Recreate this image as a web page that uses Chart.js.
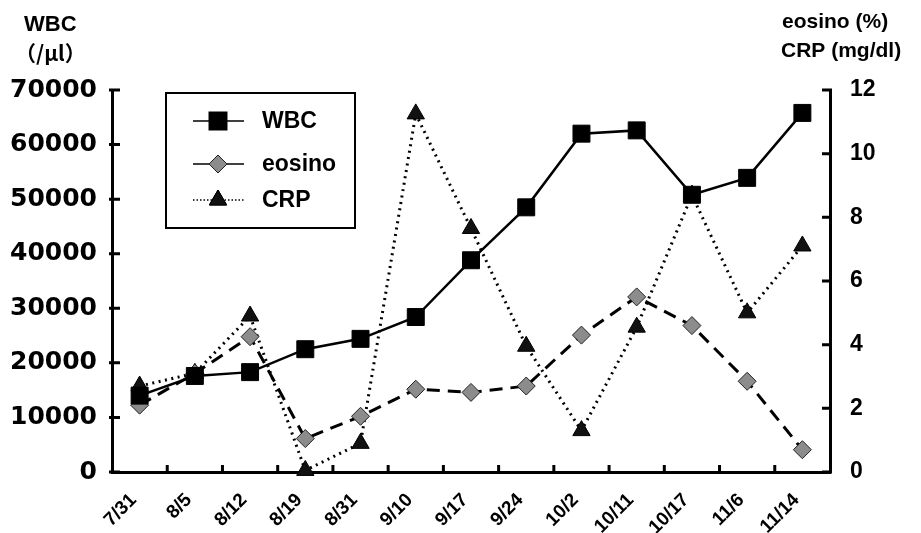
<!DOCTYPE html>
<html>
<head>
<meta charset="utf-8">
<script src="https://cdn.jsdelivr.net/npm/chart.js@4/dist/chart.umd.min.js"></script>
<style>
  html, body { margin: 0; padding: 0; background: #fff; }
  #wrap { width: 921px; height: 533px; }
</style>
</head>
<body>
<div id="wrap"><canvas id="chart" width="921" height="533"></canvas></div>
<script>
// data
const dates = ['7/31', '8/5', '8/12', '8/19', '8/31', '9/10', '9/17', '9/24', '10/2', '10/11', '10/17', '11/6', '11/14'];
const wbc = [14000, 17600, 18300, 22500, 24400, 28400, 38800, 48500, 62000, 62600, 50800, 53900, 65800];
const eosino = [2.1, 3.1, 4.25, 1.05, 1.75, 2.6, 2.5, 2.7, 4.3, 5.5, 4.6, 2.85, 0.7];
const crp = [2.7, 3.1, 4.9, 0.05, 0.9, 11.25, 7.65, 3.95, 1.3, 4.55, 8.7, 5.0, 7.1];

const ink = '#000';
const tickFont = { family: '"DejaVu Sans", sans-serif', size: 25, weight: 'bold' };
const rightFont = { family: '"Liberation Sans", Arial, sans-serif', size: 23, weight: 'bold' };

// inward tick marks, axis titles and the boxed legend
const decorPlugin = {
    id: 'decor',
    afterDraw(chart) {
        const c = chart.ctx;
        const area = chart.chartArea;
        const x = chart.scales.x, y = chart.scales.y, y1 = chart.scales.y1;
        c.save();
        c.strokeStyle = ink;
        c.lineWidth = 3;
        c.beginPath();
        y.ticks.forEach(t => {
            const py = y.getPixelForValue(t.value);
            c.moveTo(area.left - 3, py);
            c.lineTo(area.left + 8, py);
        });
        y1.ticks.forEach(t => {
            const py = y1.getPixelForValue(t.value);
            c.moveTo(area.right + 2, py);
            c.lineTo(area.right - 8, py);
        });
        for (let i = 1; i < dates.length; i++) {
            const px = (x.getPixelForValue(i - 1) + x.getPixelForValue(i)) / 2;
            c.moveTo(px, area.bottom + 1);
            c.lineTo(px, area.bottom - 7);
        }
        c.stroke();

        // axis titles
        c.fillStyle = ink;
        c.textBaseline = 'alphabetic';
        c.textAlign = 'left';
        c.font = 'bold 22px "Liberation Sans", Arial, sans-serif';
        c.fillText('WBC', 24, 31);
        c.font = 'bold 21px "Noto Sans CJK JP", sans-serif';
        c.fillText('（/μl）', 15, 61);
        c.font = 'bold 21px "Liberation Sans", Arial, sans-serif';
        c.fillText('eosino (%)', 782, 28);
        c.fillText('CRP (mg/dl)', 781, 57);

        // legend box
        c.lineWidth = 2;
        c.strokeRect(166, 93, 189, 135);
        const rows = [121, 164, 200];
        chart.data.datasets.forEach((ds, i) => {
            const ly = rows[i];
            c.save();
            c.lineWidth = 1.5;
            c.setLineDash(i === 2 ? [1.5, 2] : []);
            c.beginPath();
            c.moveTo(193, ly);
            c.lineTo(244, ly);
            c.stroke();
            c.restore();
            Chart.helpers.drawPoint(c, {
                pointStyle: ds.pointStyle,
                radius: ds.pointRadius,
                rotation: 0,
                borderWidth: ds.pointBorderWidth
            }, 218, ly);
            c.fillStyle = ds.pointBackgroundColor;
            c.strokeStyle = ds.pointBorderColor;
            c.lineWidth = ds.pointBorderWidth;
            c.fill();
            c.stroke();
            c.fillStyle = ink;
            c.strokeStyle = ink;
            c.font = 'bold 23px "Liberation Sans", Arial, sans-serif';
            c.textBaseline = 'middle';
            c.fillText(ds.label, 262, ly + 1);
        });
        c.restore();
    }
};

new Chart(document.getElementById('chart'), {
    type: 'line',
    data: {
        labels: dates,
        datasets: [{
            label: 'WBC',
            data: wbc,
            yAxisID: 'y',
            borderColor: ink,
            borderWidth: 2.5,
            pointStyle: 'rect',
            pointRadius: 12,
            pointBackgroundColor: ink,
            pointBorderColor: ink,
            pointBorderWidth: 1,
            clip: false
        }, {
            label: 'eosino',
            data: eosino,
            yAxisID: 'y1',
            borderColor: ink,
            borderWidth: 3,
            borderDash: [13, 8],
            pointStyle: 'rectRot',
            pointRadius: 9,
            pointBackgroundColor: '#8c8c8c',
            pointBorderColor: '#222',
            pointBorderWidth: 1,
            clip: false
        }, {
            label: 'CRP',
            data: crp,
            yAxisID: 'y1',
            borderColor: ink,
            borderWidth: 3,
            borderDash: [2, 4.5],
            pointStyle: 'triangle',
            pointRadius: 10,
            pointBackgroundColor: '#111',
            pointBorderColor: ink,
            pointBorderWidth: 1,
            clip: false
        }]
    },
    options: {
        responsive: false,
        animation: false,
        layout: { padding: { top: 90, left: 0, right: 0, bottom: 0 } },
        plugins: {
            legend: { display: false },
            tooltip: { enabled: false }
        },
        scales: {
            x: {
                offset: true,
                grid: { display: false, offset: true },
                border: { display: true, color: ink, width: 3 },
                ticks: {
                    color: ink,
                    font: { family: '"Liberation Sans", Arial, sans-serif', size: 19, weight: 'bold' },
                    minRotation: 45,
                    maxRotation: 45,
                    padding: 9,
                    labelOffset: -6
                },
                afterFit(s) { s.height = 61; }
            },
            y: {
                position: 'left',
                min: 0,
                max: 70000,
                grid: { display: false },
                border: { display: true, color: ink, width: 3 },
                ticks: {
                    stepSize: 10000,
                    color: ink,
                    font: tickFont,
                    padding: 7,
                    callback: v => String(v)
                },
                afterFit(s) { s.width = 112; }
            },
            y1: {
                position: 'right',
                min: 0,
                max: 12,
                grid: { display: false },
                border: { display: true, color: ink, width: 3 },
                ticks: { stepSize: 2, color: ink, font: rightFont, padding: 12 },
                afterFit(s) { s.width = 91; }
            }
        }
    },
    plugins: [decorPlugin]
});
</script>
</body>
</html>
